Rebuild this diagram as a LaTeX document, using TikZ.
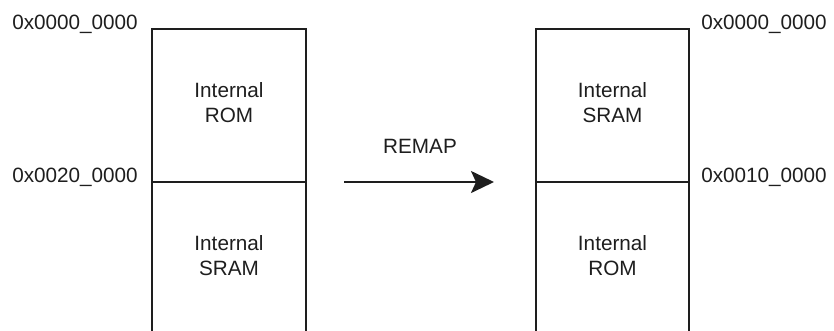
\documentclass[tikz,border=0pt]{standalone}
\usepackage{fontspec}
\setmainfont{Liberation Sans}
\usetikzlibrary{arrows.meta}
\definecolor{ink}{HTML}{1E1E1E}
\begin{document}
\begin{tikzpicture}[x=1pt,y=-1pt,
  lbl/.style={text=ink,font=\fontsize{20.7}{25}\selectfont,inner sep=0pt},
  addr/.style={lbl,anchor=base},
  region/.style={lbl,align=center,anchor=center},
  wall/.style={draw=ink,line width=2.2pt},
  flow/.style={draw=ink,line width=2.2pt,-{Stealth[length=23pt,width=22pt,inset=5pt]}}]
\useasboundingbox (0,0) rectangle (834,330);
% left map
\coordinate (LTL) at (152,28.7);
\coordinate (LTR) at (306,28.7);
\coordinate (LML) at (152,182);
\coordinate (LMR) at (306,182);
\coordinate (LBL) at (152,331);
\coordinate (LBR) at (306,331);
\draw[wall] (LBL) -- (LTL) -- (LTR) -- (LBR);
\draw[wall] (LML) -- (LMR);
\node[region] (lrom) at (229,102.5) {Internal\\ROM};
\node[region] (lsram) at (229,255.5) {Internal\\SRAM};
\node[addr] (la0) at (75,29) {0x0000\_0000};
\node[addr] (la1) at (75,182) {0x0020\_0000};
% right map
\coordinate (RTL) at (536,28.7);
\coordinate (RTR) at (689,28.7);
\coordinate (RML) at (536,182);
\coordinate (RMR) at (689,182);
\coordinate (RBL) at (536,331);
\coordinate (RBR) at (689,331);
\draw[wall] (RBL) -- (RTL) -- (RTR) -- (RBR);
\draw[wall] (RML) -- (RMR);
\node[region] (rsram) at (612.5,102.5) {Internal\\SRAM};
\node[region] (rrom) at (612.5,255.5) {Internal\\ROM};
\node[addr] (ra0) at (764,29) {0x0000\_0000};
\node[addr] (ra1) at (764,182) {0x0010\_0000};
% remap arrow
\node[addr] (remap) at (420,153) {REMAP};
\coordinate (as) at (344,182);
\coordinate (ae) at (494,182);
\draw[flow] (as) -- (ae);
\end{tikzpicture}
\end{document}
